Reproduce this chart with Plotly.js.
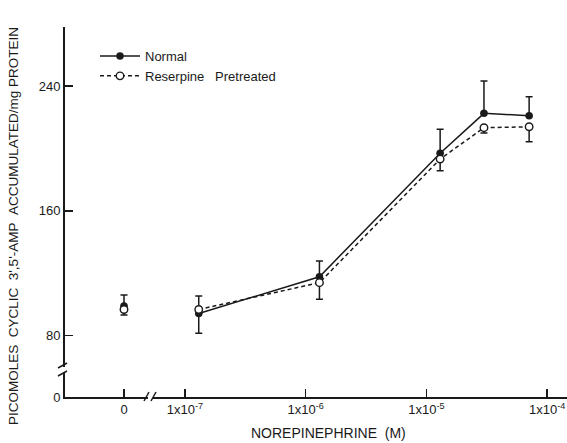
<!DOCTYPE html>
<html>
<head>
<meta charset="utf-8">
<script src="https://cdn.plot.ly/plotly-3.0.1.min.js"></script>
<style>html,body{margin:0;padding:0;background:#fff;}#chart{width:567px;height:443px;}</style>
</head>
<body>
<div id="chart"></div>
<script>
// Norepinephrine concentration (M) of the dose points
const concentrations = [1.3e-7, 1.3e-6, 1.3e-5, 3.0e-5, 7.1e-5];
// Normal: mean and upper error bar (pmol cyclic AMP / mg protein)
const normalMean = [94.1, 117.7, 196.9, 222.5, 221.0];
const normalErrUp = [11.2, 10.1, 15.4, 20.7, 12.2];
// Reserpine pretreated: mean and lower error bar
const reserpineMean = [96.7, 113.9, 193.2, 213.3, 213.9];
const reserpineErrDown = [15.3, 10.7, 7.5, 3.4, 9.6];
// Control (no norepinephrine)
const controlX = [0];
const controlNormal = [98.9];
const controlNormalErrUp = [7.1];
const controlReserpine = [96.7];
const controlReserpineErrDown = [3.6];
// Tick labels
const xTickVals = [1e-7, 1e-6, 1e-5, 1e-4];
const xTickText = ['1x10<sup>-7</sup>', '1x10<sup>-6</sup>', '1x10<sup>-5</sup>', '1x10<sup>-4</sup>'];
const yTickVals = [80, 160, 240];

const zeros = n => new Array(n).fill(0);
const INK = '#1a1a1a';
const FONT = 'Liberation Sans, Arial, sans-serif';

const traces = [
  {
    name: 'Normal', x: concentrations, y: normalMean, xaxis: 'x', yaxis: 'y',
    mode: 'lines+markers', line: {color: INK, width: 1.5},
    marker: {symbol: 'circle', size: 7.5, color: INK},
    error_y: {type: 'data', symmetric: false, array: normalErrUp, arrayminus: zeros(normalErrUp.length),
              color: INK, thickness: 1.5, width: 3.5}
  },
  {
    name: 'Reserpine&nbsp;&nbsp;&nbsp;Pretreated', x: concentrations, y: reserpineMean, xaxis: 'x', yaxis: 'y',
    mode: 'lines+markers', line: {color: INK, width: 1.5, dash: '4px,3px'},
    marker: {symbol: 'circle', size: 7.5, color: '#fff', line: {color: INK, width: 1.4}},
    error_y: {type: 'data', symmetric: false, array: zeros(reserpineErrDown.length), arrayminus: reserpineErrDown,
              color: INK, thickness: 1.5, width: 3.5}
  },
  {
    name: 'Normal control', x: controlX, y: controlNormal, xaxis: 'x2', yaxis: 'y', showlegend: false,
    mode: 'markers', marker: {symbol: 'circle', size: 7.5, color: INK},
    error_y: {type: 'data', symmetric: false, array: controlNormalErrUp, arrayminus: [0],
              color: INK, thickness: 1.5, width: 3.5}
  },
  {
    name: 'Reserpine control', x: controlX, y: controlReserpine, xaxis: 'x2', yaxis: 'y', showlegend: false,
    mode: 'markers', marker: {symbol: 'circle', size: 7.5, color: '#fff', line: {color: INK, width: 1.4}},
    error_y: {type: 'data', symmetric: false, array: [0], arrayminus: controlReserpineErrDown,
              color: INK, thickness: 1.5, width: 3.5}
  },
  // empty trace so the lower (broken) y-axis segment is registered
  {x: [], y: [], xaxis: 'x2', yaxis: 'y2', type: 'scatter', mode: 'markers', showlegend: false, hoverinfo: 'skip'}
];

// plot area: x 63..567 (504 px), y 27..397 (370 px)
const W = 504, H = 370, L = 63, T = 27;
const px = x => (x - L) / W;
const py = y => (T + H - y) / H;

const axisCommon = {
  showgrid: false, zeroline: false, showline: true, linecolor: INK, linewidth: 1.7,
  ticks: 'inside', tickcolor: INK, tickwidth: 1.5, ticklen: 8,
  tickfont: {family: FONT, size: 13, color: INK}, automargin: false, fixedrange: true
};

const seg = (x0, y0, x1, y1) => ({type: 'line', xref: 'paper', yref: 'paper',
  x0: px(x0), y0: py(y0), x1: px(x1), y1: py(y1), line: {color: INK, width: 1.5}});

const layout = {
  width: 567, height: 443,
  margin: {l: L, r: 0, t: T, b: 443 - T - H},
  paper_bgcolor: '#fff', plot_bgcolor: '#fff',
  showlegend: true,
  legend: {x: px(95), y: py(41), xanchor: 'left', yanchor: 'top',
           font: {family: FONT, size: 13, color: INK}, bgcolor: 'rgba(0,0,0,0)',
           tracegroupgap: 0, itemwidth: 40},
  xaxis: Object.assign({}, axisCommon, {
    type: 'log', domain: [px(153), 1], range: [-7.265, -3.835], anchor: 'free', position: 0,
    tickmode: 'array', tickvals: xTickVals, ticktext: xTickText
  }),
  xaxis2: Object.assign({}, axisCommon, {
    type: 'linear', domain: [0, px(148)], range: [-0.7176, 0.2824], anchor: 'free', position: 0,
    tickmode: 'array', tickvals: [0], ticktext: ['0']
  }),
  yaxis: Object.assign({}, axisCommon, {
    domain: [py(367), 1], range: [59.8, 277.9], anchor: 'free', position: 0,
    tickmode: 'array', tickvals: yTickVals, ticktext: yTickVals.map(String)
  }),
  yaxis2: Object.assign({}, axisCommon, {
    domain: [0, py(373)], range: [0, 24 / 1.559], anchor: 'free', position: 0,
    tickmode: 'array', tickvals: [0], ticktext: ['0'], ticklen: 0
  }),
  shapes: [
    // y-axis break marks
    seg(58, 368, 67, 363),
    seg(58, 376, 67, 371),
    // x-axis break marks
    seg(144, 401, 149, 392),
    seg(151, 401, 156, 392)
  ],
  annotations: [
    {text: "PICOMOLES&nbsp;&nbsp;CYCLIC&nbsp;&nbsp;3',5'-AMP&nbsp;&nbsp;ACCUMULATED/mg PROTEIN",
     xref: 'paper', yref: 'paper', x: px(13), y: py(226), textangle: -90,
     showarrow: false, xanchor: 'center', yanchor: 'middle',
     font: {family: FONT, size: 13.5, color: INK}},
    {text: 'NOREPINEPHRINE&nbsp;&nbsp;(M)', xref: 'paper', yref: 'paper', x: px(328), y: py(433),
     showarrow: false, xanchor: 'center', yanchor: 'middle',
     font: {family: FONT, size: 14, color: INK}}
  ]
};

Plotly.newPlot('chart', traces, layout, {displayModeBar: false, staticPlot: true});
</script>
</body>
</html>
